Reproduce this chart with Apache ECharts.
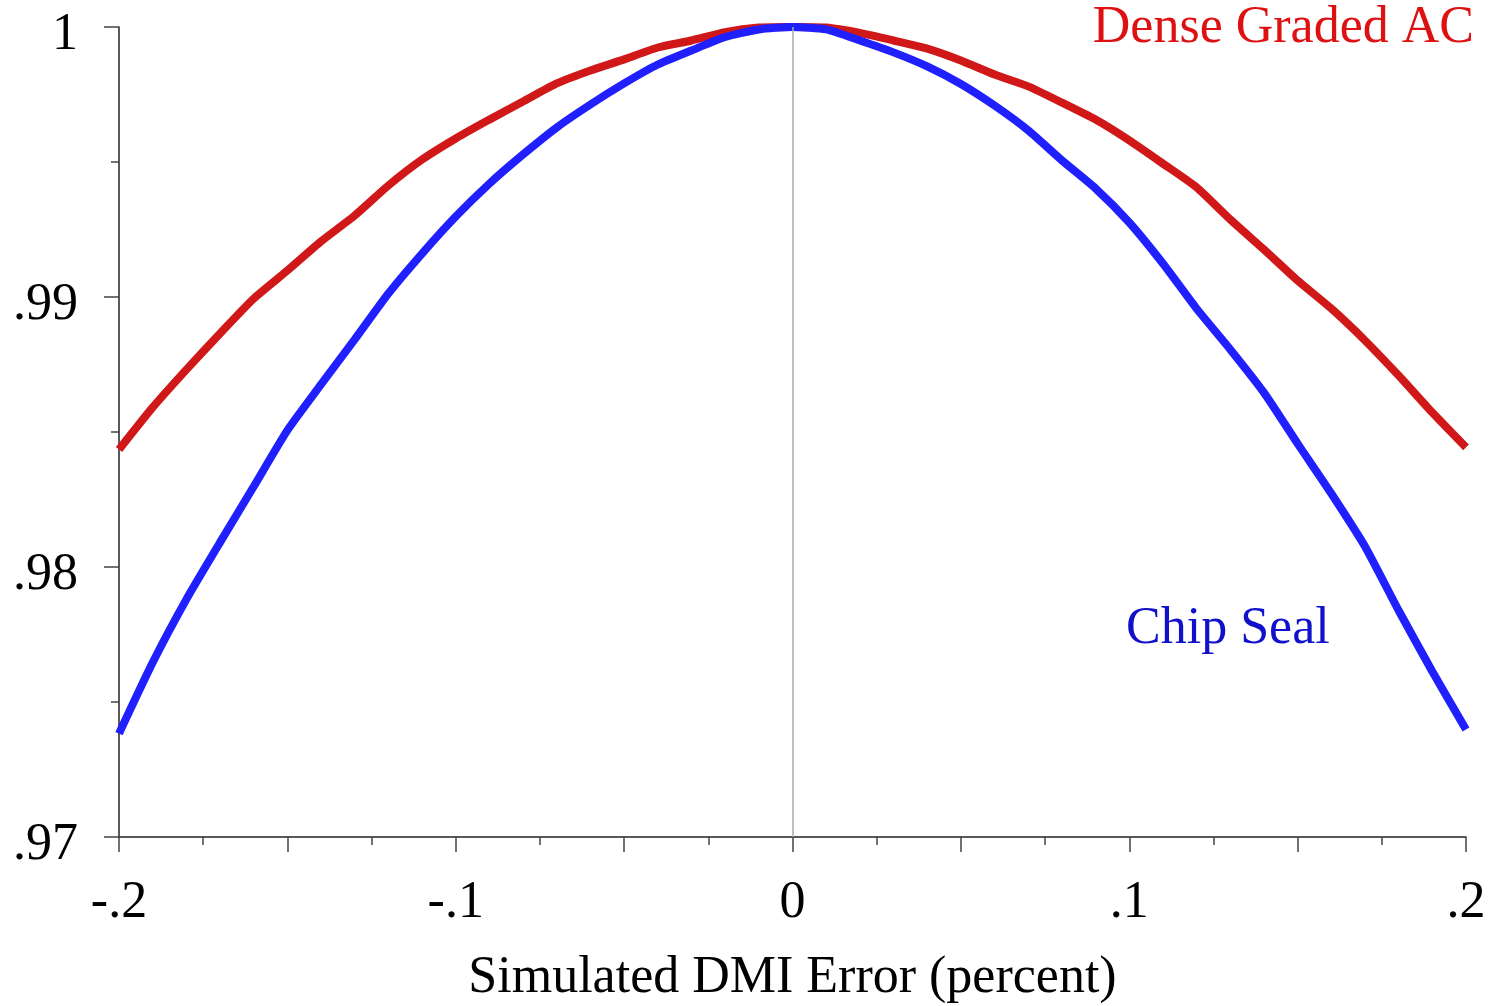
<!DOCTYPE html>
<html>
<head>
<meta charset="utf-8">
<script src="https://cdn.jsdelivr.net/npm/echarts@6/dist/echarts.min.js"></script>
<style>
  html, body { margin: 0; padding: 0; background: #ffffff; }
  #chart { width: 1493px; height: 1006px; }
</style>
</head>
<body>
<div id="chart"></div>
<script>
// DMI error (percent), sampled every 0.01
const dmiError = [
  -0.20, -0.19, -0.18, -0.17, -0.16, -0.15, -0.14, -0.13, -0.12, -0.11,
  -0.10, -0.09, -0.08, -0.07, -0.06, -0.05, -0.04, -0.03, -0.02, -0.01,
   0.00,  0.01,  0.02,  0.03,  0.04,  0.05,  0.06,  0.07,  0.08,  0.09,
   0.10,  0.11,  0.12,  0.13,  0.14,  0.15,  0.16,  0.17,  0.18,  0.19, 0.20
];
const denseGradedAC = [
  0.98435, 0.98591, 0.98731, 0.98865, 0.98994, 0.99098, 0.99206, 0.99302, 0.99413, 0.99509,
  0.99587, 0.99657, 0.99724, 0.99791, 0.99839, 0.99880, 0.99924, 0.99950, 0.99981, 0.99998,
  1.00000, 0.99998, 0.99978, 0.99950, 0.99920, 0.99876, 0.99824, 0.99780, 0.99720, 0.99657,
  0.99580, 0.99494, 0.99406, 0.99287, 0.99176, 0.99061, 0.98957, 0.98839, 0.98709, 0.98572, 0.98443
];
const chipSeal = [
  0.97383, 0.97646, 0.97880, 0.98091, 0.98298, 0.98506, 0.98676, 0.98843, 0.99013, 0.99161,
  0.99298, 0.99420, 0.99528, 0.99628, 0.99713, 0.99791, 0.99861, 0.99913, 0.99963, 0.99991,
  1.00000, 0.99991, 0.99950, 0.99906, 0.99854, 0.99789, 0.99709, 0.99617, 0.99506, 0.99402,
  0.99276, 0.99124, 0.98957, 0.98806, 0.98646, 0.98457, 0.98272, 0.98076, 0.97839, 0.97613, 0.97398
];
const xTickLabels = ['-.2', '-.1', '0', '.1', '.2'];
const yTickLabels = ['.97', '.98', '.99', '1'];
const seriesNames = ['Dense Graded AC', 'Chip Seal'];
const xTitle = 'Simulated DMI Error (percent)';

const FONT = "'Liberation Serif', 'Times New Roman', serif";

function pairs(ys) { return dmiError.map((x, i) => [x, ys[i]]); }

const chart = echarts.init(document.getElementById('chart'), null, { renderer: 'canvas' });
chart.setOption({
  animation: false,
  backgroundColor: '#ffffff',
  grid: { left: 119, right: 27, top: 27, bottom: 169, containLabel: false, outerBoundsMode: 'none' },
  xAxis: {
    type: 'value',
    min: -0.2, max: 0.2, interval: 0.05,
    axisLine: { show: true, onZero: false, lineStyle: { color: '#222', width: 1.5 } },
    axisTick: { show: true, inside: false, length: 15, lineStyle: { color: '#444', width: 1.5 } },
    minorTick: { show: true, splitNumber: 2, length: 8, lineStyle: { color: '#444', width: 1.5 } },
    splitLine: { show: false },
    axisLabel: {
      margin: 40,
      fontFamily: FONT, fontSize: 52, color: '#000',
      formatter: function (v) {
        const k = Math.round(v * 20);
        if (k % 2 !== 0) return '';
        return xTickLabels[k / 2 + 2];
      }
    },
    name: xTitle,
    nameLocation: 'middle',
    nameGap: 141,
    nameTextStyle: { fontFamily: FONT, fontSize: 52, color: '#000', verticalAlign: 'middle' }
  },
  yAxis: {
    type: 'value',
    min: 0.97, max: 1, interval: 0.01,
    axisLine: { show: true, onZero: false, lineStyle: { color: '#222', width: 1.5 } },
    axisTick: { show: true, inside: false, length: 15, lineStyle: { color: '#444', width: 1.5 } },
    minorTick: { show: true, splitNumber: 2, length: 8, lineStyle: { color: '#444', width: 1.5 } },
    splitLine: { show: false },
    axisLabel: {
      margin: 41,
      fontFamily: FONT, fontSize: 52, color: '#000',
      verticalAlign: 'top',
      lineHeight: 17,
      formatter: function (v) {
        const k = Math.round((v - 0.97) * 100);
        return yTickLabels[k];
      }
    }
  },
  series: [
    {
      name: 'zero',
      type: 'line',
      data: [],
      silent: true,
      markLine: {
        silent: true,
        symbol: ['none', 'none'],
        label: { show: false },
        lineStyle: { color: '#aaaaaa', width: 1.5, type: 'solid' },
        data: [{ xAxis: 0 }]
      }
    },
    {
      name: seriesNames[0],
      type: 'line',
      data: pairs(denseGradedAC),
      showSymbol: false,
      smooth: 0.2,
      lineStyle: { color: '#D01818', width: 8 },
      itemStyle: { color: '#D01818' },
      z: 3
    },
    {
      name: seriesNames[1],
      type: 'line',
      data: pairs(chipSeal),
      showSymbol: false,
      smooth: 0.2,
      lineStyle: { color: '#2020FF', width: 8 },
      itemStyle: { color: '#2020FF' },
      z: 4
    }
  ],
  graphic: [
    {
      type: 'text', right: 19, top: 2,
      style: { text: seriesNames[0], font: "52px " + FONT, fill: '#DD1111' }
    },
    {
      type: 'text', left: 1126, top: 603,
      style: { text: seriesNames[1], font: "52px " + FONT, fill: '#1111CC' }
    }
  ]
});
</script>
</body>
</html>
